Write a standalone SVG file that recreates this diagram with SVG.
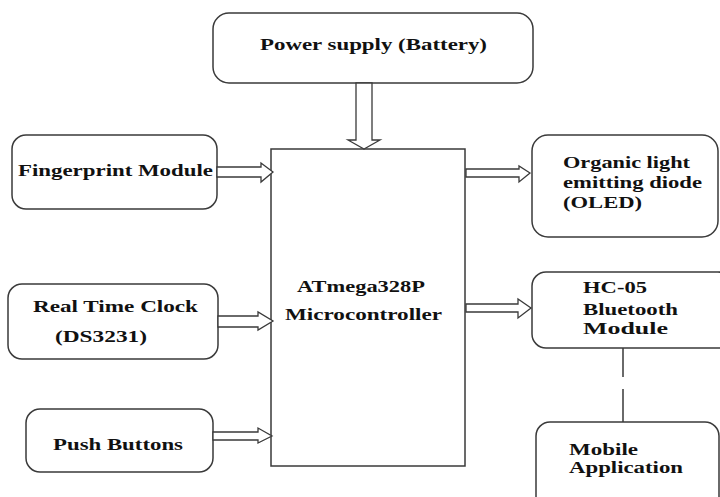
<svg xmlns="http://www.w3.org/2000/svg" width="720" height="497" viewBox="0 0 720 497">
<style>
.box{fill:#fff;stroke:#3a3a3a;stroke-width:1.5}
.arr{fill:#fff;stroke:#3a3a3a;stroke-width:1.3;stroke-linejoin:miter}
.t{font-family:"Liberation Serif","Times New Roman",serif;font-weight:bold;font-size:17px;fill:#111}
.dash{stroke:#3a3a3a;stroke-width:1.5;fill:none}
</style>
<rect width="720" height="497" fill="#fff"/>
<g id="power">
<rect class="box" x="213" y="13" width="320" height="70" rx="16"/>
<text class="t" x="260" y="50" textLength="227" lengthAdjust="spacingAndGlyphs">Power supply (Battery)</text>
</g>
<g id="mcu">
<rect class="box" x="271" y="149" width="194" height="317"/>
<text class="t" x="297" y="292" textLength="128" lengthAdjust="spacingAndGlyphs">ATmega328P</text>
<text class="t" x="285" y="320" textLength="157" lengthAdjust="spacingAndGlyphs">Microcontroller</text>
</g>
<g id="fingerprint">
<rect class="box" x="12" y="135" width="205" height="74" rx="14"/>
<text class="t" x="18" y="176" textLength="195" lengthAdjust="spacingAndGlyphs">Fingerprint Module</text>
</g>
<g id="rtc">
<rect class="box" x="8" y="284" width="210" height="75" rx="14"/>
<text class="t" x="33" y="312" textLength="165" lengthAdjust="spacingAndGlyphs">Real Time Clock</text>
<text class="t" x="55" y="342" textLength="92" lengthAdjust="spacingAndGlyphs">(DS3231)</text>
</g>
<g id="push">
<rect class="box" x="26" y="409" width="187" height="63" rx="14"/>
<text class="t" x="53" y="450" textLength="130" lengthAdjust="spacingAndGlyphs">Push Buttons</text>
</g>
<g id="oled">
<rect class="box" x="532" y="135" width="186" height="102" rx="16"/>
<text class="t" x="563" y="168" textLength="127" lengthAdjust="spacingAndGlyphs">Organic light</text>
<text class="t" x="563" y="188" textLength="139" lengthAdjust="spacingAndGlyphs">emitting diode</text>
<text class="t" x="563" y="208" textLength="79" lengthAdjust="spacingAndGlyphs">(OLED)</text>
</g>
<g id="hc05">
<rect class="box" x="532" y="272" width="200" height="76" rx="14"/>
<text class="t" x="583" y="293" textLength="64" lengthAdjust="spacingAndGlyphs">HC-05</text>
<text class="t" x="583" y="315" textLength="95" lengthAdjust="spacingAndGlyphs">Bluetooth</text>
<text class="t" x="583" y="334" textLength="85" lengthAdjust="spacingAndGlyphs">Module</text>
</g>
<g id="mobile">
<rect class="box" x="536" y="422" width="183" height="90" rx="14"/>
<text class="t" x="569" y="455" textLength="69" lengthAdjust="spacingAndGlyphs">Mobile</text>
<text class="t" x="569" y="473" textLength="114" lengthAdjust="spacingAndGlyphs">Application</text>
</g>
<g id="connectors">
<path class="arr" d="M356,83 H372 V140 H380 L364,149 L348,140 H356 Z"/>
<path class="arr" d="M217,167 H261 V163 L273,172 L261,182 V177 H217 Z"/>
<path class="arr" d="M218,316 H258 V312 L273,321 L258,330 V327 H218 Z"/>
<path class="arr" d="M213,432 H258 V428 L272,436 L258,443 V440 H213 Z"/>
<path class="arr" d="M466,169 H519 V166 L530,173 L519,182 V177 H466 Z"/>
<path class="arr" d="M466,304 H518 V299 L531,308 L518,318 V312 H466 Z"/>
<path class="dash" d="M623,348 V377 M623,389 V422"/>
</g>
</svg>
